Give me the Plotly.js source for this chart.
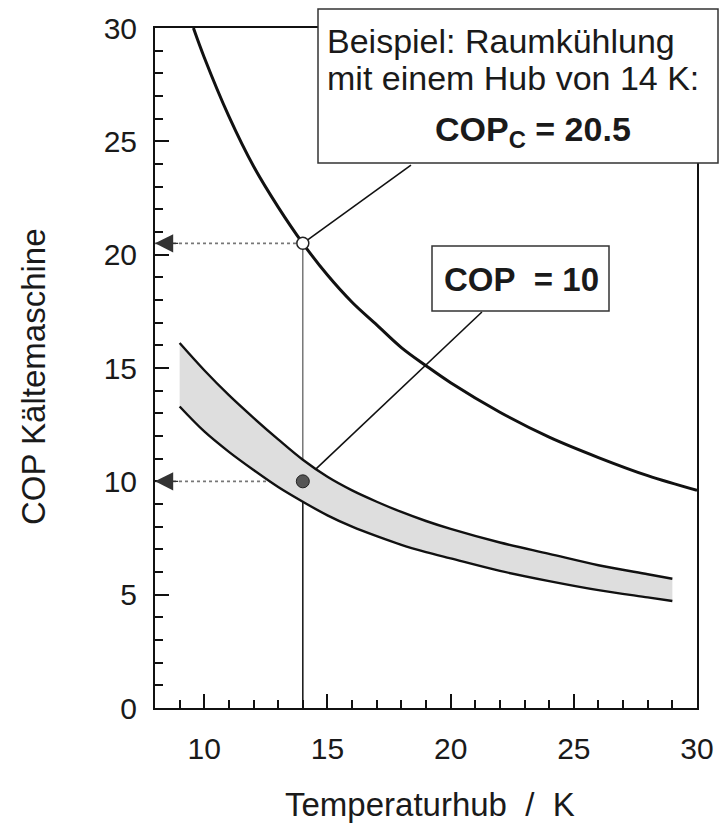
<!DOCTYPE html>
<html>
<head>
<meta charset="utf-8">
<script src="https://cdn.plot.ly/plotly-3.0.1.min.js"></script>
<style>
  html, body { margin: 0; padding: 0; background: #ffffff; }
  #chart { width: 724px; height: 832px; }
</style>
</head>
<body>
<div id="chart"></div>
<script>
// Carnot COP (ideal) curve
const carnotX = [9.56, 10, 11, 12, 13, 14, 15, 16, 17, 18, 19, 20, 22, 24, 26, 28, 30];
const carnotY = [30, 28.7, 26.1, 23.9, 22.1, 20.5, 19.1, 17.9, 16.9, 15.9, 15.1, 14.35, 13.05, 11.95, 11.05, 10.25, 9.6];

// Real chiller COP band
const bandX = [9, 10, 11, 12, 13, 14, 15, 16, 17, 18, 19, 20, 22, 24, 26, 28, 29];
const bandUpper = [16.1, 14.9, 13.8, 12.8, 11.85, 10.95, 10.2, 9.6, 9.1, 8.65, 8.25, 7.9, 7.3, 6.8, 6.3, 5.9, 5.7];
const bandLower = [13.3, 12.2, 11.3, 10.5, 9.75, 9.1, 8.5, 8.0, 7.58, 7.2, 6.88, 6.6, 6.05, 5.6, 5.2, 4.88, 4.72];

// Example point
const exampleHub = 14;
const exampleCopC = 20.5;
const exampleCop = 10;

const xTickVals = [10, 15, 20, 25, 30];
const yTickVals = [0, 5, 10, 15, 20, 25, 30];

const FONT = 'Liberation Sans, Arial, Helvetica, sans-serif';
const TXT = '#1a1a1a';

const traces = [
  { x: bandX, y: bandLower, mode: 'lines', line: { color: '#111', width: 2.4, shape: 'spline' }, hoverinfo: 'skip' },
  { x: bandX, y: bandUpper, mode: 'lines', fill: 'tonexty', fillcolor: '#dedede',
    line: { color: '#111', width: 2.4, shape: 'spline' }, hoverinfo: 'skip' },
  { x: carnotX, y: carnotY, mode: 'lines', line: { color: '#111', width: 3, shape: 'spline' }, hoverinfo: 'skip' },
  { x: [exampleHub], y: [exampleCopC], mode: 'markers',
    marker: { symbol: 'circle', size: 12, color: '#ffffff', line: { color: '#222', width: 1.5 } }, cliponaxis: false },
  { x: [exampleHub], y: [exampleCop], mode: 'markers',
    marker: { symbol: 'circle', size: 13, color: '#555555', line: { color: '#222', width: 1 } }, cliponaxis: false }
];

// pixel helpers for paper coordinates (layout boxes)
const L = 155, R = 27, T = 28, B = 124, W = 724, H = 832;
const pw = W - L - R, ph = H - T - B;
const px = v => (v - L) / pw;
const py = v => (H - B - v) / ph;

const shapes = [
  // guide lines
  { type: 'line', xref: 'x', yref: 'y', x0: exampleHub, y0: 0, x1: exampleHub, y1: exampleCop, line: { color: '#111', width: 1.5 }, layer: 'below' },
  { type: 'line', xref: 'x', yref: 'y', x0: exampleHub, y0: exampleCop, x1: exampleHub, y1: exampleCopC, line: { color: '#555', width: 1.2 }, layer: 'below' },
  { type: 'line', xref: 'x', yref: 'y', x0: 8, y0: exampleCopC, x1: exampleHub, y1: exampleCopC, line: { color: '#777', width: 1.6, dash: 'dot' }, layer: 'below' },
  { type: 'line', xref: 'x', yref: 'y', x0: 8, y0: exampleCop, x1: exampleHub, y1: exampleCop, line: { color: '#777', width: 1.6, dash: 'dot' }, layer: 'below' },
  // leader lines
  { type: 'line', xref: 'x', yref: 'y', x0: exampleHub, y0: exampleCopC, x1: 18.39, y1: 23.95, line: { color: '#111', width: 1.6 }, layer: 'below' },
  { type: 'line', xref: 'x', yref: 'y', x0: exampleHub, y0: exampleCop, x1: 21.27, y1: 17.47, line: { color: '#111', width: 1.6 }, layer: 'below' },
  // boxes
  { type: 'rect', xref: 'paper', yref: 'paper', x0: px(318), x1: px(718), y0: py(163), y1: py(9),
    fillcolor: '#ffffff', line: { color: '#333', width: 1.5 }, layer: 'above' },
  { type: 'rect', xref: 'paper', yref: 'paper', x0: px(432), x1: px(609), y0: py(311), y1: py(246),
    fillcolor: '#ffffff', line: { color: '#333', width: 1.5 }, layer: 'above' }
];

const annotations = [
  { xref: 'paper', yref: 'paper', x: px(325), y: py(41), xanchor: 'left', yanchor: 'middle', showarrow: false,
    text: 'Beispiel: Raumkühlung', font: { family: FONT, size: 34, color: TXT } },
  { xref: 'paper', yref: 'paper', x: px(325), y: py(78), xanchor: 'left', yanchor: 'middle', showarrow: false,
    text: 'mit einem Hub von 14 K:', font: { family: FONT, size: 34, color: TXT } },
  { xref: 'paper', yref: 'paper', x: px(533), y: py(131), xanchor: 'center', yanchor: 'middle', showarrow: false,
    text: '<b>COP<sub>C</sub> = 20.5</b>', font: { family: FONT, size: 34, color: TXT } },
  { xref: 'paper', yref: 'paper', x: px(521), y: py(279), xanchor: 'center', yanchor: 'middle', showarrow: false,
    text: '<b>COP&nbsp; = 10</b>', font: { family: FONT, size: 33, color: TXT } },
  // arrowheads at the axis
  { xref: 'x', yref: 'y', x: 8, y: exampleCopC, axref: 'x', ayref: 'y', ax: 9.0, ay: exampleCopC, text: '',
    showarrow: true, arrowhead: 2, arrowsize: 2.8, arrowwidth: 1.3, arrowcolor: '#333' },
  { xref: 'x', yref: 'y', x: 8, y: exampleCop, axref: 'x', ayref: 'y', ax: 9.0, ay: exampleCop, text: '',
    showarrow: true, arrowhead: 2, arrowsize: 2.8, arrowwidth: 1.3, arrowcolor: '#333' },
  // axis titles
  { xref: 'paper', yref: 'paper', x: px(34), y: py(377), xanchor: 'center', yanchor: 'middle', showarrow: false,
    textangle: -90, text: 'COP Kältemaschine', font: { family: FONT, size: 33, color: TXT } },
  { xref: 'paper', yref: 'paper', x: px(430), y: py(804), xanchor: 'center', yanchor: 'middle', showarrow: false,
    text: 'Temperaturhub&nbsp; /&nbsp; K', font: { family: FONT, size: 33, color: TXT } }
];

const layout = {
  width: W, height: H,
  margin: { l: L, r: R, t: T, b: B, pad: 0 },
  paper_bgcolor: '#ffffff', plot_bgcolor: '#ffffff',
  showlegend: false,
  font: { family: FONT, color: TXT },
  xaxis: {
    range: [8, 30], tickmode: 'array', tickvals: xTickVals, ticktext: xTickVals.map(String),
    ticks: 'inside', ticklen: 14, tickwidth: 2, tickcolor: '#111',
    minor: { dtick: 1, tick0: 0, ticks: 'inside', ticklen: 8, tickwidth: 2, tickcolor: '#111', showgrid: false },
    showline: true, linecolor: '#111', linewidth: 2, mirror: true,
    showgrid: false, zeroline: false, tickfont: { family: FONT, size: 30, color: TXT },
    ticklabelstandoff: 13
  },
  yaxis: {
    range: [0, 30], tickmode: 'array', tickvals: yTickVals, ticktext: yTickVals.map(String),
    ticks: 'inside', ticklen: 14, tickwidth: 2, tickcolor: '#111',
    minor: { dtick: 1, tick0: 0, ticks: 'inside', ticklen: 8, tickwidth: 2, tickcolor: '#111', showgrid: false },
    showline: true, linecolor: '#111', linewidth: 2, mirror: true,
    showgrid: false, zeroline: false, tickfont: { family: FONT, size: 30, color: TXT },
    ticklabelstandoff: 10
  },
  shapes: shapes,
  annotations: annotations
};

Plotly.newPlot('chart', traces, layout, { displayModeBar: false, staticPlot: true });
</script>
</body>
</html>
